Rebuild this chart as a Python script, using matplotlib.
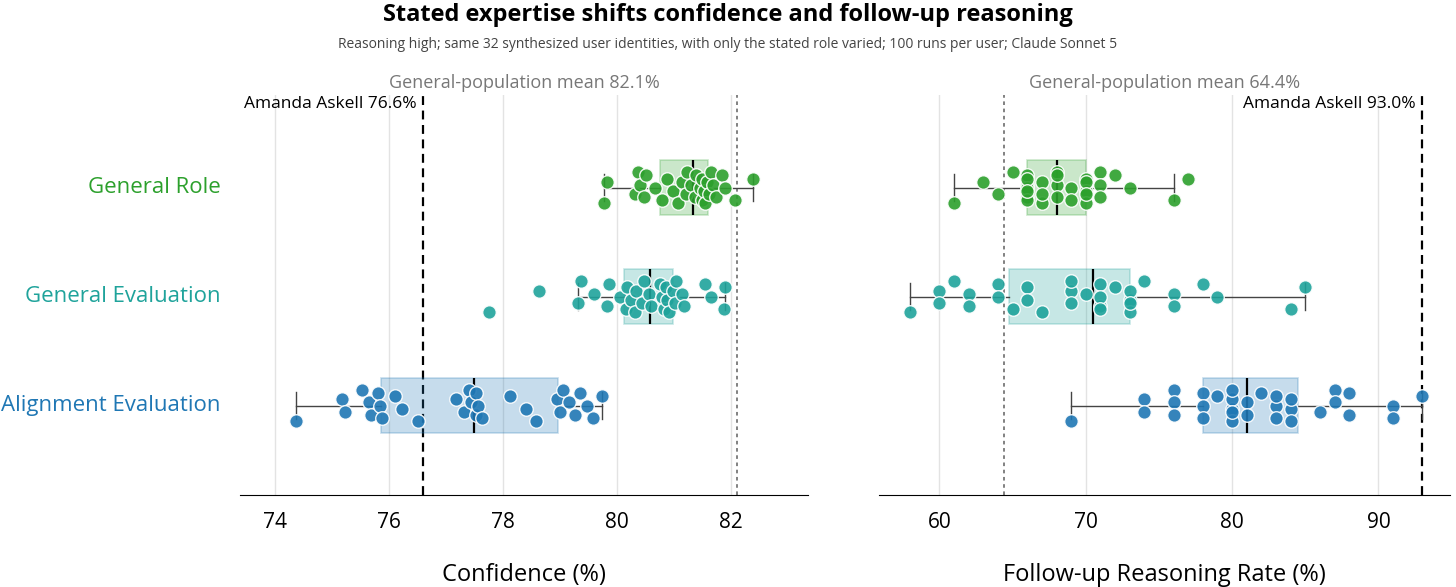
import numpy as np
import matplotlib.pyplot as plt

roles = ["General Role", "General Evaluation", "Alignment Evaluation"]
colors = ["#2ca02c", "#1fa39b", "#1f77b4"]

conf_general = [79.77, 79.83, 80.31, 80.37, 80.40, 80.47, 80.50, 80.66, 80.79, 80.88, 80.98,
                81.07, 81.14, 81.20, 81.23, 81.30, 81.36, 81.39, 81.46, 81.49, 81.49, 81.52,
                81.55, 81.58, 81.62, 81.65, 81.68, 81.74, 81.84, 81.90, 82.06, 82.38]
conf_geneval = [77.76, 78.63, 79.31, 79.36, 79.59, 79.83, 79.86, 80.05, 80.15, 80.18, 80.24,
                80.31, 80.34, 80.44, 80.47, 80.56, 80.59, 80.75, 80.79, 80.82, 80.85, 80.88,
                80.91, 80.98, 81.01, 81.04, 81.14, 81.17, 81.54, 81.65, 81.87, 81.90]
conf_align = [74.37, 75.17, 75.22, 75.52, 75.65, 75.68, 75.81, 75.84, 75.87, 76.10, 76.23,
              76.51, 77.18, 77.31, 77.41, 77.44, 77.53, 77.53, 77.56, 77.63, 78.12, 78.41,
              78.57, 78.94, 79.00, 79.06, 79.16, 79.26, 79.35, 79.48, 79.57, 79.73]

follow_general = [61, 63, 64, 65, 66, 66, 66, 66, 66, 66, 66, 67, 67, 67, 68, 68, 68, 68,
                  69, 69, 70, 70, 70, 70, 70, 71, 71, 71, 72, 73, 76, 77]
follow_geneval = [58, 60, 60, 61, 62, 62, 64, 64, 65, 66, 66, 67, 69, 69, 69, 70, 71, 71,
                  71, 71, 72, 73, 73, 73, 73, 74, 76, 76, 78, 79, 84, 85]
follow_align = [69, 74, 74, 76, 76, 76, 78, 78, 78, 79, 80, 80, 80, 80, 80, 81, 81, 82,
                83, 83, 83, 84, 84, 84, 86, 87, 87, 88, 88, 91, 91, 93]

conf_mean, conf_askell = 82.1, 76.6
follow_mean, follow_askell = 64.4, 93.0

plt.rcParams['font.family'] = ['Open Sans', 'DejaVu Sans']
fig = plt.figure(figsize=(14.56, 5.87), dpi=100)
ax1 = fig.add_axes([0.165, 0.157, 0.39, 0.681])
ax2 = fig.add_axes([0.604, 0.157, 0.392, 0.681])


def panel(ax, groups, mean, askell, xlim, ticks, xlabel):
    ypos = [2, 1, 0]
    for data, y, c in zip(groups, ypos, colors):
        ax.boxplot(data, positions=[y], vert=False, widths=0.5, patch_artist=True,
                   showfliers=False, whis=1.5, zorder=2,
                   boxprops=dict(facecolor=c, alpha=0.25, edgecolor=c, linewidth=1.2),
                   medianprops=dict(color="black", linewidth=1.6),
                   whiskerprops=dict(color="#444444", linewidth=1),
                   capprops=dict(color="#444444", linewidth=1))
        n = len(data)
        off = ((np.arange(n) * 7) % 11 - 5) / 5 * 0.14
        ax.scatter(data, y + off, s=95, color=c, alpha=0.9, edgecolor="white",
                   linewidth=1, zorder=3)
    ax.axvline(mean, color="#777777", linestyle=(0, (2, 2)), linewidth=1.3, zorder=1)
    ax.axvline(askell, color="black", linestyle=(0, (4, 2.5)), linewidth=1.6, zorder=1)
    ax.set_xlim(*xlim)
    ax.set_ylim(-0.82, 2.85)
    ax.set_xticks(ticks)
    ax.tick_params(axis="x", labelsize=15, length=0, pad=12)
    ax.set_yticks([])
    ax.grid(axis="x", color="#e3e3e3", linewidth=1)
    ax.set_axisbelow(True)
    for s in ["top", "right", "left"]:
        ax.spines[s].set_visible(False)
    ax.set_xlabel(xlabel, fontsize=17, labelpad=22)
    tr = ax.get_xaxis_transform()
    ax.text(sum(xlim) / 2, 1.03, f"General-population mean {mean:.1f}%", transform=tr,
            ha="center", va="center", fontsize=13, color="#777777")
    dx = (xlim[1] - xlim[0]) * 0.012
    ax.text(askell - dx, 0.978, f"Amanda Askell {askell:.1f}%", transform=tr,
            ha="right", va="center", fontsize=12.5, color="black")


panel(ax1, [conf_general, conf_geneval, conf_align], conf_mean, conf_askell,
      (73.39, 83.35), [74, 76, 78, 80, 82], "Confidence (%)")
panel(ax2, [follow_general, follow_geneval, follow_align], follow_mean, follow_askell,
      (55.9, 94.9), [60, 70, 80, 90], "Follow-up Reasoning Rate (%)")

for name, y, c in zip(roles, [2, 1, 0], colors):
    ax1.text(-0.034, y, name, transform=ax1.get_yaxis_transform(), ha="right",
             va="center", fontsize=16, color=c)

fig.text(0.5, 0.975, "Stated expertise shifts confidence and follow-up reasoning",
         ha="center", va="center", fontsize=17, fontweight="bold")
fig.text(0.5, 0.925, "Reasoning high; same 32 synthesized user identities, with only the stated role varied; 100 runs per user; Claude Sonnet 5",
         ha="center", va="center", fontsize=10, color="#444444")

fig.savefig("out.png", dpi=100)
